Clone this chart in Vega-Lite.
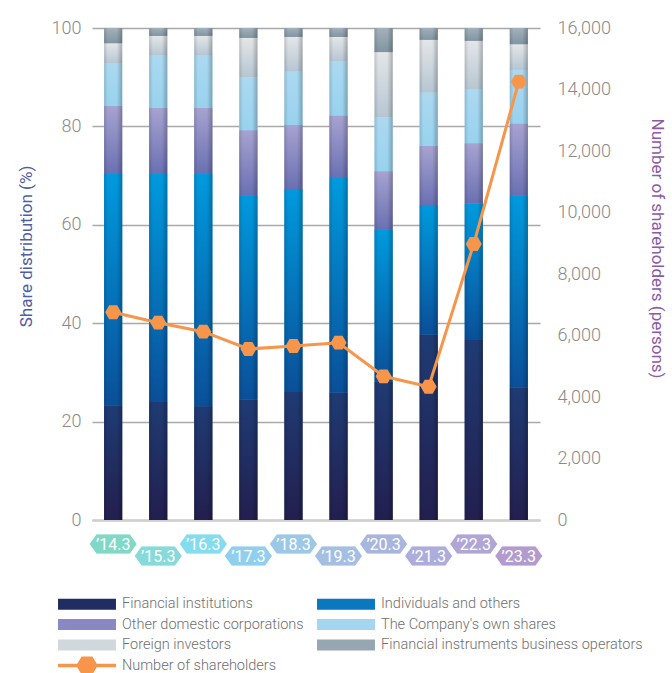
{
  "$schema": "https://vega.github.io/schema/vega-lite/v6.json",
  "width": 448,
  "height": 492,
  "autosize": "none",
  "padding": {"left": 92, "top": 28, "right": 132, "bottom": 153},
  "background": "white",
  "config": {
    "view": {"stroke": null},
    "font": "Roboto",
    "axis": {"labelFont": "Roboto", "titleFont": "Roboto"},
    "legend": {"labelFont": "Roboto"}
  },
  "datasets": {
    "shares": [
      {"year": "’14.3", "series": "Financial institutions", "value": 23.2},
      {"year": "’14.3", "series": "Individuals and others", "value": 47.1},
      {"year": "’14.3", "series": "Other domestic corporations", "value": 13.9},
      {"year": "’14.3", "series": "The Company's own shares", "value": 8.6},
      {"year": "’14.3", "series": "Foreign investors", "value": 4.1},
      {"year": "’14.3", "series": "Financial instruments business operators", "value": 3.1},
      {"year": "’15.3", "series": "Financial institutions", "value": 24.0},
      {"year": "’15.3", "series": "Individuals and others", "value": 46.3},
      {"year": "’15.3", "series": "Other domestic corporations", "value": 13.5},
      {"year": "’15.3", "series": "The Company's own shares", "value": 10.7},
      {"year": "’15.3", "series": "Foreign investors", "value": 3.9},
      {"year": "’15.3", "series": "Financial instruments business operators", "value": 1.6},
      {"year": "’16.3", "series": "Financial institutions", "value": 23.1},
      {"year": "’16.3", "series": "Individuals and others", "value": 47.4},
      {"year": "’16.3", "series": "Other domestic corporations", "value": 13.3},
      {"year": "’16.3", "series": "The Company's own shares", "value": 10.7},
      {"year": "’16.3", "series": "Foreign investors", "value": 3.9},
      {"year": "’16.3", "series": "Financial instruments business operators", "value": 1.6},
      {"year": "’17.3", "series": "Financial institutions", "value": 24.5},
      {"year": "’17.3", "series": "Individuals and others", "value": 41.5},
      {"year": "’17.3", "series": "Other domestic corporations", "value": 13.2},
      {"year": "’17.3", "series": "The Company's own shares", "value": 10.8},
      {"year": "’17.3", "series": "Foreign investors", "value": 8.0},
      {"year": "’17.3", "series": "Financial instruments business operators", "value": 2.0},
      {"year": "’18.3", "series": "Financial institutions", "value": 26.0},
      {"year": "’18.3", "series": "Individuals and others", "value": 41.3},
      {"year": "’18.3", "series": "Other domestic corporations", "value": 13.0},
      {"year": "’18.3", "series": "The Company's own shares", "value": 10.9},
      {"year": "’18.3", "series": "Foreign investors", "value": 7.0},
      {"year": "’18.3", "series": "Financial instruments business operators", "value": 1.8},
      {"year": "’19.3", "series": "Financial institutions", "value": 25.9},
      {"year": "’19.3", "series": "Individuals and others", "value": 43.6},
      {"year": "’19.3", "series": "Other domestic corporations", "value": 12.7},
      {"year": "’19.3", "series": "The Company's own shares", "value": 11.0},
      {"year": "’19.3", "series": "Foreign investors", "value": 5.0},
      {"year": "’19.3", "series": "Financial instruments business operators", "value": 1.8},
      {"year": "’20.3", "series": "Financial institutions", "value": 28.1},
      {"year": "’20.3", "series": "Individuals and others", "value": 31.0},
      {"year": "’20.3", "series": "Other domestic corporations", "value": 11.8},
      {"year": "’20.3", "series": "The Company's own shares", "value": 11.0},
      {"year": "’20.3", "series": "Foreign investors", "value": 13.2},
      {"year": "’20.3", "series": "Financial instruments business operators", "value": 4.9},
      {"year": "’21.3", "series": "Financial institutions", "value": 37.7},
      {"year": "’21.3", "series": "Individuals and others", "value": 26.3},
      {"year": "’21.3", "series": "Other domestic corporations", "value": 12.0},
      {"year": "’21.3", "series": "The Company's own shares", "value": 10.9},
      {"year": "’21.3", "series": "Foreign investors", "value": 10.7},
      {"year": "’21.3", "series": "Financial instruments business operators", "value": 2.4},
      {"year": "’22.3", "series": "Financial institutions", "value": 36.6},
      {"year": "’22.3", "series": "Individuals and others", "value": 27.7},
      {"year": "’22.3", "series": "Other domestic corporations", "value": 12.3},
      {"year": "’22.3", "series": "The Company's own shares", "value": 10.9},
      {"year": "’22.3", "series": "Foreign investors", "value": 9.9},
      {"year": "’22.3", "series": "Financial instruments business operators", "value": 2.6},
      {"year": "’23.3", "series": "Financial institutions", "value": 26.9},
      {"year": "’23.3", "series": "Individuals and others", "value": 39.1},
      {"year": "’23.3", "series": "Other domestic corporations", "value": 14.6},
      {"year": "’23.3", "series": "The Company's own shares", "value": 10.9},
      {"year": "’23.3", "series": "Foreign investors", "value": 5.2},
      {"year": "’23.3", "series": "Financial instruments business operators", "value": 3.3}
    ],
    "holders": [
      {"year": "’14.3", "count": 6755},
      {"year": "’15.3", "count": 6417},
      {"year": "’16.3", "count": 6124},
      {"year": "’17.3", "count": 5561},
      {"year": "’18.3", "count": 5658},
      {"year": "’19.3", "count": 5766},
      {"year": "’20.3", "count": 4673},
      {"year": "’21.3", "count": 4335},
      {"year": "’22.3", "count": 8976},
      {"year": "’23.3", "count": 14254}
    ]
  },
  "encoding": {
    "x": {
      "field": "year",
      "type": "ordinal",
      "scale": {
        "domain": ["’14.3", "’15.3", "’16.3", "’17.3", "’18.3", "’19.3", "’20.3", "’21.3", "’22.3", "’23.3"],
        "paddingInner": 0.6,
        "paddingOuter": 0.27
      },
      "axis": {
        "labels": false,
        "ticks": false,
        "title": null,
        "domain": true,
        "domainColor": "#cfcfcf",
        "domainWidth": 2.5,
        "zindex": 0
      }
    }
  },
  "layer": [
    {
      "data": {"name": "shares"},
      "transform": [{"stack": "value", "groupby": ["year"], "as": ["v0", "v1"]}],
      "encoding": {
        "y": {
          "field": "v1",
          "type": "quantitative",
          "scale": {"domain": [0, 100], "nice": false},
          "axis": {
            "values": [0, 20, 40, 60, 80, 100],
            "grid": true,
            "gridColor": "#a9a9a9",
            "gridWidth": 1.5,
            "domain": false,
            "ticks": false,
            "labelPadding": 11,
            "labelFontSize": 18,
            "labelFontWeight": 300,
            "labelColor": "#8a8a8a",
            "title": "Share distribution (%)",
            "titleFontSize": 17,
            "titleFontWeight": 400,
            "titleColor": "#4f5ca8",
            "titleY": 218,
            "titlePadding": 16
          }
        },
        "y2": {"field": "v0"}
      },
      "layer": [
        {
          "mark": {"type": "bar", "strokeWidth": 0},
          "encoding": {
            "fill": {
              "field": "series",
              "type": "nominal",
              "scale": {
                "domain": ["Financial institutions", "Individuals and others", "Other domestic corporations", "The Company's own shares", "Foreign investors", "Financial instruments business operators", "Number of shareholders"],
                "range": ["#1f2d62", "#0a78bf", "#8a88c2", "#a5d6ef", "#d0d8de", "#97a7b1", "#f7964b"]
              },
              "legend": {
                "orient": "none",
                "direction": "horizontal",
                "legendX": -14,
                "legendY": 567,
                "columns": 2,
                "title": null,
                "padding": 0,
                "symbolType": "M-3.22,-0.61H3.22V0.61H-3.22Z",
                "symbolSize": 324,
                "symbolStrokeWidth": 0,
                "symbolOpacity": 1,
                "labelOffset": 26,
                "columnPadding": 13,
                "rowPadding": 4.5,
                "labelFontSize": 14.5,
                "labelFontWeight": 300,
                "labelColor": "#6f6f6f",
                "labelLimit": 400,
                "encode": {
                  "symbols": {
                    "update": {
                      "shape": {"signal": "datum.value === 'Number of shareholders' ? 'M-3.22,-0.2H3.22V0.2H-3.22Z M-1.2,0L-0.6,-1H0.6L1.2,0L0.6,1H-0.6Z' : 'M-3.22,-0.61H3.22V0.61H-3.22Z'"}
                    }
                  }
                }
              }
            }
          }
        },
        {
          "transform": [{"filter": "datum.series === 'Financial institutions'"}],
          "mark": {"type": "bar", "strokeWidth": 0, "fill": {"gradient": "linear", "x1": 0, "y1": 0, "x2": 0, "y2": 1, "stops": [{"offset": 0, "color": "#1f3b74"}, {"offset": 1, "color": "#231f4e"}]}}
        },
        {
          "transform": [{"filter": "datum.series === 'Individuals and others'"}],
          "mark": {"type": "bar", "strokeWidth": 0, "fill": {"gradient": "linear", "x1": 0, "y1": 0, "x2": 0, "y2": 1, "stops": [{"offset": 0, "color": "#009ade"}, {"offset": 1, "color": "#0a4f98"}]}}
        },
        {
          "transform": [{"filter": "datum.series === 'Other domestic corporations'"}],
          "mark": {"type": "bar", "strokeWidth": 0, "fill": {"gradient": "linear", "x1": 0, "y1": 0, "x2": 0, "y2": 1, "stops": [{"offset": 0, "color": "#a7a3d1"}, {"offset": 1, "color": "#6a70b2"}]}}
        },
        {
          "transform": [{"filter": "datum.series === \"The Company's own shares\""}],
          "mark": {"type": "bar", "strokeWidth": 0, "fill": {"gradient": "linear", "x1": 0, "y1": 0, "x2": 0, "y2": 1, "stops": [{"offset": 0, "color": "#acd9f1"}, {"offset": 1, "color": "#98d2ee"}]}}
        },
        {
          "transform": [{"filter": "datum.series === 'Foreign investors'"}],
          "mark": {"type": "bar", "strokeWidth": 0, "fill": {"gradient": "linear", "x1": 0, "y1": 0, "x2": 0, "y2": 1, "stops": [{"offset": 0, "color": "#e4e6e8"}, {"offset": 1, "color": "#b6c6d2"}]}}
        },
        {
          "transform": [{"filter": "datum.series === 'Financial instruments business operators'"}],
          "mark": {"type": "bar", "strokeWidth": 0, "fill": {"gradient": "linear", "x1": 0, "y1": 0, "x2": 0, "y2": 1, "stops": [{"offset": 0, "color": "#a3b1bb"}, {"offset": 1, "color": "#8095a2"}]}}
        },
        {
          "mark": {
            "type": "bar",
            "strokeWidth": 0,
            "fill": {
              "gradient": "linear", "x1": 0, "y1": 0, "x2": 1, "y2": 0,
              "stops": [
                {"offset": 0, "color": "rgba(0,0,0,0.14)"},
                {"offset": 0.2, "color": "rgba(0,0,0,0)"},
                {"offset": 0.7, "color": "rgba(0,0,0,0)"},
                {"offset": 1, "color": "rgba(0,0,0,0.24)"}
              ]
            }
          },
          "encoding": {"detail": {"field": "series"}}
        }
      ]
    },
    {
      "data": {"name": "holders"},
      "layer": [
        {
          "transform": [{"filter": {"field": "year", "oneOf": ["’14.3", "’16.3", "’18.3", "’20.3", "’22.3"]}}],
          "mark": {"type": "point", "filled": true, "opacity": 1, "size": 2304, "shape": "M-1,0L-0.7,-0.417H0.7L1,0L0.7,0.417H-0.7Z", "stroke": "white", "strokeWidth": 0.8},
          "encoding": {
            "y": {"datum": -4.88, "type": "quantitative", "scale": {"domain": [0, 100], "nice": false}, "axis": null},
            "color": {
              "field": "year", "type": "ordinal", "legend": null,
              "scale": {
                "domain": ["’14.3", "’15.3", "’16.3", "’17.3", "’18.3", "’19.3", "’20.3", "’21.3", "’22.3", "’23.3"],
                "range": ["#7fd9c6", "#86dada", "#84dcef", "#90d0ee", "#9cc8e8", "#a4bfe2", "#a8b6de", "#acaddb", "#b0a6d6", "#b39ccd"]
              }
            }
          }
        },
        {
          "transform": [{"filter": {"field": "year", "oneOf": ["’15.3", "’17.3", "’19.3", "’21.3", "’23.3"]}}],
          "mark": {"type": "point", "filled": true, "opacity": 1, "size": 2304, "shape": "M-1,0L-0.7,-0.417H0.7L1,0L0.7,0.417H-0.7Z", "stroke": "white", "strokeWidth": 0.8},
          "encoding": {
            "y": {"datum": -7.32, "type": "quantitative", "axis": null},
            "color": {"field": "year", "type": "ordinal", "legend": null}
          }
        },
        {
          "transform": [{"filter": {"field": "year", "oneOf": ["’14.3", "’16.3", "’18.3", "’20.3", "’22.3"]}}],
          "mark": {"type": "text", "color": "white", "fontSize": 16, "font": "Roboto", "baseline": "middle", "align": "center", "dy": 1},
          "encoding": {"y": {"datum": -4.88, "type": "quantitative", "axis": null}, "text": {"field": "year"}}
        },
        {
          "transform": [{"filter": {"field": "year", "oneOf": ["’15.3", "’17.3", "’19.3", "’21.3", "’23.3"]}}],
          "mark": {"type": "text", "color": "white", "fontSize": 16, "font": "Roboto", "baseline": "middle", "align": "center", "dy": 1},
          "encoding": {"y": {"datum": -7.32, "type": "quantitative", "axis": null}, "text": {"field": "year"}}
        }
      ]
    },
    {
      "data": {"name": "holders"},
      "encoding": {
        "y": {
          "field": "count",
          "type": "quantitative",
          "scale": {"domain": [0, 16000], "nice": false},
          "axis": {
            "orient": "right",
            "values": [0, 2000, 4000, 6000, 8000, 10000, 12000, 14000, 16000],
            "format": ",.0f",
            "grid": false,
            "domain": false,
            "ticks": false,
            "labelPadding": 17,
            "labelFontSize": 18,
            "labelFontWeight": 300,
            "labelColor": "#8a8a8a",
            "title": "Number of shareholders (persons)",
            "titleFontSize": 17,
            "titleFontWeight": 400,
            "titleColor": "#8d5aa6",
            "titleY": 220,
            "titlePadding": 37
          }
        }
      },
      "layer": [
        {"mark": {"type": "line", "color": "#f7964b", "strokeWidth": 3}},
        {"mark": {"type": "point", "filled": true, "opacity": 1, "color": "#f7964b", "size": 256, "shape": "M-1,0L-0.5,-0.866H0.5L1,0L0.5,0.866H-0.5Z"}}
      ]
    }
  ],
  "resolve": {"scale": {"y": "independent"}, "axis": {"y": "independent"}}
}
